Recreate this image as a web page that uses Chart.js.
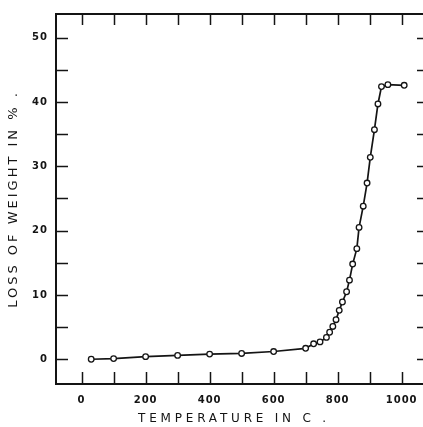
<!DOCTYPE html>
<html>
<head>
<meta charset="utf-8">
<title>Loss of weight vs temperature</title>
<script src="https://cdn.jsdelivr.net/npm/chart.js@4/dist/chart.umd.min.js"></script>
<style>
  html, body { margin: 0; padding: 0; background: #fff; overflow: hidden; }
  #wrap { width: 432px; height: 427px; position: relative; }
</style>
</head>
<body>
<div id="wrap"><canvas id="c"></canvas></div>
<script>
// --- data ---
const temps = [30, 100, 200, 300, 400, 500, 600, 700, 725, 745, 765, 775, 785, 795, 805, 815, 828, 837, 847, 860, 867, 880, 892, 902, 915, 926, 937, 957, 1008];
const loss  = [0.0, 0.1, 0.4, 0.6, 0.8, 0.9, 1.2, 1.7, 2.4, 2.7, 3.4, 4.2, 5.1, 6.15, 7.6, 8.9, 10.5, 12.3, 14.8, 17.2, 20.5, 23.8, 27.4, 31.4, 35.7, 39.7, 42.4, 42.7, 42.6];

const xTickValues = [0, 100, 200, 300, 400, 500, 600, 700, 800, 900, 1000];
const yTickValues = [0, 5, 10, 15, 20, 25, 30, 35, 40, 45, 50];
const xLabelEvery = 200;
const yLabelEvery = 10;

const xTitle = 'TEMPERATURE IN C .';
const yTitle = 'LOSS OF WEIGHT IN % .';

const INK = '#141414';

// frame + inward tick marks + axis titles
const frameTicks = {
  id: 'frameTicks',
  beforeDraw(chart) {
    chart.ctx.letterSpacing = '1px';
  },
  beforeDatasetsDraw(chart) {
    const { ctx, chartArea: a, scales: { x, y } } = chart;
    ctx.save();
    ctx.strokeStyle = INK;
    ctx.lineWidth = 2;
    ctx.beginPath();
    ctx.moveTo(a.left, a.top);
    ctx.lineTo(a.right, a.top);
    ctx.stroke();

    ctx.lineWidth = 1.5;
    ctx.beginPath();
    xTickValues.forEach(v => {
      const px = Math.round(x.getPixelForValue(v)) + 0.5;
      ctx.moveTo(px, a.top); ctx.lineTo(px, a.top + 11);
      ctx.moveTo(px, a.bottom); ctx.lineTo(px, a.bottom - 12);
    });
    yTickValues.forEach(v => {
      const py = Math.round(y.getPixelForValue(v)) + 0.5;
      ctx.moveTo(a.left, py); ctx.lineTo(a.left + 12, py);
      ctx.moveTo(a.right, py); ctx.lineTo(a.right - 8, py);
    });
    ctx.stroke();
    ctx.restore();
  },
  afterDraw(chart) {
    const { ctx, chartArea: a } = chart;
    ctx.save();
    ctx.fillStyle = INK;
    ctx.textAlign = 'center';
    ctx.textBaseline = 'middle';

    ctx.font = '12px "DejaVu Sans"';
    ctx.letterSpacing = '3.8px';
    ctx.fillText(xTitle, 234, 419);

    ctx.font = '13px "DejaVu Sans"';
    ctx.letterSpacing = '3px';
    ctx.translate(14, (a.top + a.bottom) / 2);
    ctx.rotate(-Math.PI / 2);
    ctx.fillText(yTitle, 0, 0);
    ctx.restore();
  }
};

new Chart(document.getElementById('c'), {
  type: 'line',
  data: {
    datasets: [{
      data: temps.map((t, i) => ({ x: t, y: loss[i] })),
      borderColor: INK,
      borderWidth: 1.7,
      tension: 0,
      pointRadius: 2.8,
      pointBorderWidth: 1.3,
      pointBackgroundColor: '#fff',
      pointBorderColor: INK
    }]
  },
  options: {
    responsive: true,
    maintainAspectRatio: false,
    animation: false,
    layout: { padding: { left: 0, top: 10, right: 7, bottom: 0 } },
    plugins: { legend: { display: false }, tooltip: { enabled: false } },
    scales: {
      x: {
        type: 'linear',
        min: -80,
        max: 1073,
        afterBuildTicks: s => { s.ticks = xTickValues.map(v => ({ value: v })); },
        afterFit: s => { s.height = 43; },
        grid: { display: false, drawTicks: false },
        border: { display: true, color: INK, width: 2 },
        ticks: {
          padding: 10,
          color: INK,
          font: { family: 'DejaVu Sans', size: 10, weight: 'bold' },
          maxRotation: 0,
          autoSkip: false,
          callback: v => (v % xLabelEvery === 0 ? String(v) : '')
        }
      },
      y: {
        type: 'linear',
        min: -3.85,
        max: 53.69,
        afterBuildTicks: s => { s.ticks = yTickValues.map(v => ({ value: v })); },
        afterFit: s => { s.width = 56; },
        grid: { display: false, drawTicks: false },
        border: { display: true, color: INK, width: 2 },
        ticks: {
          padding: 8,
          color: INK,
          font: { family: 'DejaVu Sans', size: 10, weight: 'bold' },
          autoSkip: false,
          callback: v => (v % yLabelEvery === 0 ? String(v) : '')
        }
      }
    }
  },
  plugins: [frameTicks]
});
</script>
</body>
</html>
